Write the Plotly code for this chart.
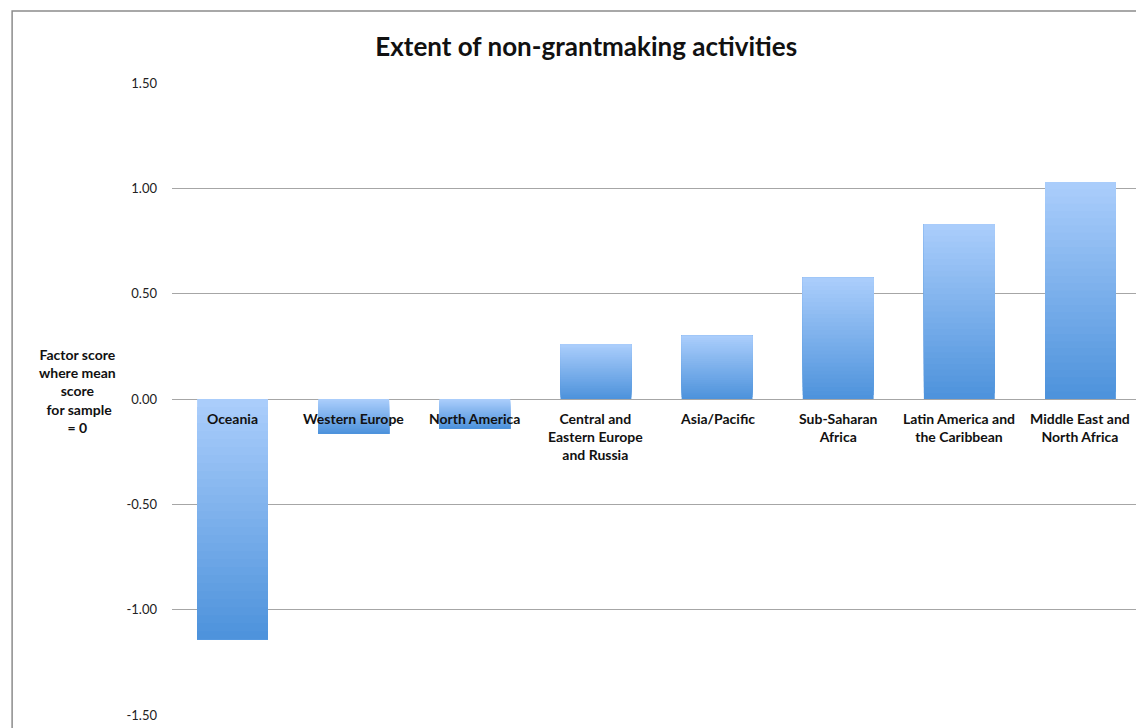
import plotly.graph_objects as go

# Regions and factor scores
regions = [
    "Oceania", "Western Europe", "North America",
    "Central and<br>Eastern Europe<br>and Russia", "Asia/Pacific",
    "Sub-Saharan<br>Africa", "Latin America and<br>the Caribbean",
    "Middle East and<br>North Africa",
]
scores = [-1.14, -0.165, -0.14, 0.26, 0.30, 0.575, 0.83, 1.03]
y_ticks = [-1.5, -1.0, -0.5, 0.0, 0.5, 1.0, 1.5]
y_tick_text = ["-1.50", "-1.00", "-0.50", "0.00", "0.50", "1.00", "1.50"]

# gradient: light at the top of each bar, darker toward the bottom
light = (170, 205, 251)
dark = (78, 147, 220)
n_steps = 30


def mix(t):
    r, g, b = (int(round(light[k] + (dark[k] - light[k]) * t)) for k in range(3))
    return f"rgb({r},{g},{b})"


fig = go.Figure()
# overlapping layers (each reaches the bar end) so no seams show
for i in range(n_steps):
    bases = [v * i / n_steps for v in scores]
    heights = [v * (1 - i / n_steps) for v in scores]
    colors = []
    for v in scores:
        t = (n_steps - 1 - i) / (n_steps - 1) if v > 0 else i / (n_steps - 1)
        colors.append(mix(t))
    fig.add_trace(go.Bar(
        x=regions, y=heights, base=bases,
        marker=dict(color=colors, line=dict(width=0)),
        width=0.585, showlegend=False, hoverinfo="skip",
    ))

# category labels sit just below the zero line
for name in regions:
    fig.add_annotation(
        x=name, y=0, yref="y", yanchor="top", yshift=-9,
        text=f"<b>{name}</b>", showarrow=False,
        font=dict(family="Lato", size=14, color="#111"),
    )

fig.add_annotation(
    xref="paper", yref="paper", x=-0.098, y=0.512, xanchor="center",
    yanchor="middle",
    text="<b>Factor score<br>where mean<br>score<br> for sample<br>= 0</b>",
    showarrow=False, font=dict(family="Lato", size=14, color="#111"),
)

# outer chart frame
fig.add_shape(
    type="rect", xref="paper", yref="paper",
    x0=-0.165, x1=1.3, y0=-0.3, y1=1.114,
    line=dict(color="#8c8c8c", width=1.5), layer="below",
)

fig.update_layout(
    title=dict(text="<b>Extent of non-grantmaking activities</b>",
               x=0.509, xanchor="center", y=0.946, yanchor="middle",
               font=dict(family="Lato", size=26, color="#111")),
    barmode="overlay",
    plot_bgcolor="white",
    paper_bgcolor="white",
    width=1136, height=720,
    margin=dict(l=164, r=3, t=75, b=13),
    xaxis=dict(showticklabels=False, showgrid=False, zeroline=False,
               showline=False, ticks=""),
    yaxis=dict(range=[-1.5, 1.5], tickvals=y_ticks, ticktext=y_tick_text,
               showgrid=True, gridcolor="#a6a6a6",
               gridwidth=1, zeroline=True, zerolinecolor="#a6a6a6",
               zerolinewidth=1, ticks="", ticklabelstandoff=14,
               tickfont=dict(family="Lato", size=13, color="#222")),
)

fig.write_html("out.html")
